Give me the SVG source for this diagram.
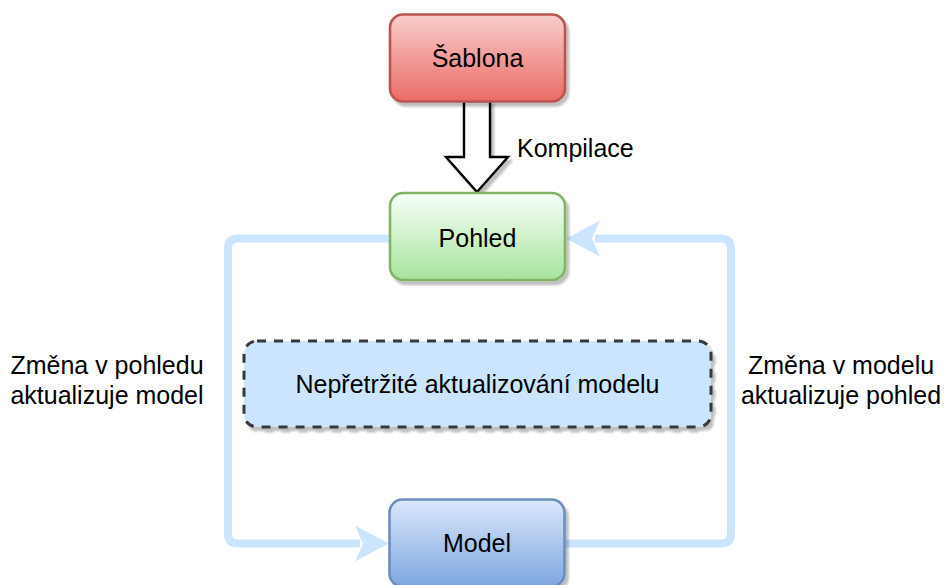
<svg xmlns="http://www.w3.org/2000/svg" width="944" height="585" viewBox="0 0 944 585">
  <style>
    .lbl { font-family: "Liberation Sans", Arial, Helvetica, sans-serif; font-size: 25px; fill: #000; }
    .mid { text-anchor: middle; }
    .box { stroke-width: 2.6; }
    .flow { fill: none; stroke: #cce5ff; stroke-width: 8; stroke-linejoin: round; }
    .head { fill: #cce5ff; stroke: none; }
  </style>
  <defs>
    <linearGradient id="gRed" x1="0" y1="0" x2="0" y2="1">
      <stop offset="0" stop-color="#f8cecc"/>
      <stop offset="1" stop-color="#ea6b66"/>
    </linearGradient>
    <linearGradient id="gGreen" x1="0" y1="0" x2="0" y2="1">
      <stop offset="0" stop-color="#f8fff8"/>
      <stop offset="1" stop-color="#a6e49c"/>
    </linearGradient>
    <linearGradient id="gBlue" x1="0" y1="0" x2="0" y2="1">
      <stop offset="0" stop-color="#dae8fc"/>
      <stop offset="1" stop-color="#7ea6e0"/>
    </linearGradient>
    <filter id="shadow" x="-10%" y="-10%" width="130%" height="130%">
      <feDropShadow dx="3" dy="4" stdDeviation="0.8" flood-color="#000" flood-opacity="0.25"/>
    </filter>
  </defs>

  <!-- connectors: the two update loops and the compile arrow -->
  <g id="connectors">
    <path class="flow" d="M389,238.5 H238 Q228,238.5 228,248.5 V533.5 Q228,543.5 238,543.5 H360"/>
    <polygon class="head" points="389,543.5 355,525.5 363,543.5 355,561.5"/>
    <path class="flow" d="M566,543.5 H721 Q731,543.5 731,533.5 V248.5 Q731,238.5 721,238.5 H595"/>
    <polygon class="head" points="566,238.5 600,220.5 592,238.5 600,256.5"/>
    <polygon points="464,101 490,101 490,157 508,157 477,192 446,157 464,157" fill="#fff" stroke="#000" stroke-width="2.4" filter="url(#shadow)"/>
    <text class="lbl" x="517" y="157">Kompilace</text>
  </g>

  <g id="sablona">
    <rect class="box" x="390" y="14.5" width="175" height="87" rx="13" fill="url(#gRed)" stroke="#b85450" filter="url(#shadow)"/>
    <text class="lbl mid" x="477.5" y="66.5">Šablona</text>
  </g>

  <g id="pohled">
    <rect class="box" x="390" y="193" width="175" height="87" rx="13" fill="url(#gGreen)" stroke="#82b366" filter="url(#shadow)"/>
    <text class="lbl mid" x="477.5" y="246.5">Pohled</text>
  </g>

  <g id="aktualizace">
    <rect x="244" y="341" width="467" height="86" rx="13" fill="#cce5ff" stroke="#36393d" stroke-width="3" stroke-dasharray="9 8" filter="url(#shadow)"/>
    <text class="lbl mid" x="477.5" y="393">Nepřetržité aktualizování modelu</text>
  </g>

  <g id="model">
    <rect class="box" x="389.5" y="499.5" width="175" height="87" rx="13" fill="url(#gBlue)" stroke="#6c8ebf" filter="url(#shadow)"/>
    <text class="lbl mid" x="477" y="552">Model</text>
  </g>

  <g id="popis-vlevo">
    <text class="lbl mid" x="107" y="374">Změna v pohledu</text>
    <text class="lbl mid" x="107" y="404">aktualizuje model</text>
  </g>

  <g id="popis-vpravo">
    <text class="lbl mid" x="841" y="374">Změna v modelu</text>
    <text class="lbl mid" x="841" y="404">aktualizuje pohled</text>
  </g>
</svg>
